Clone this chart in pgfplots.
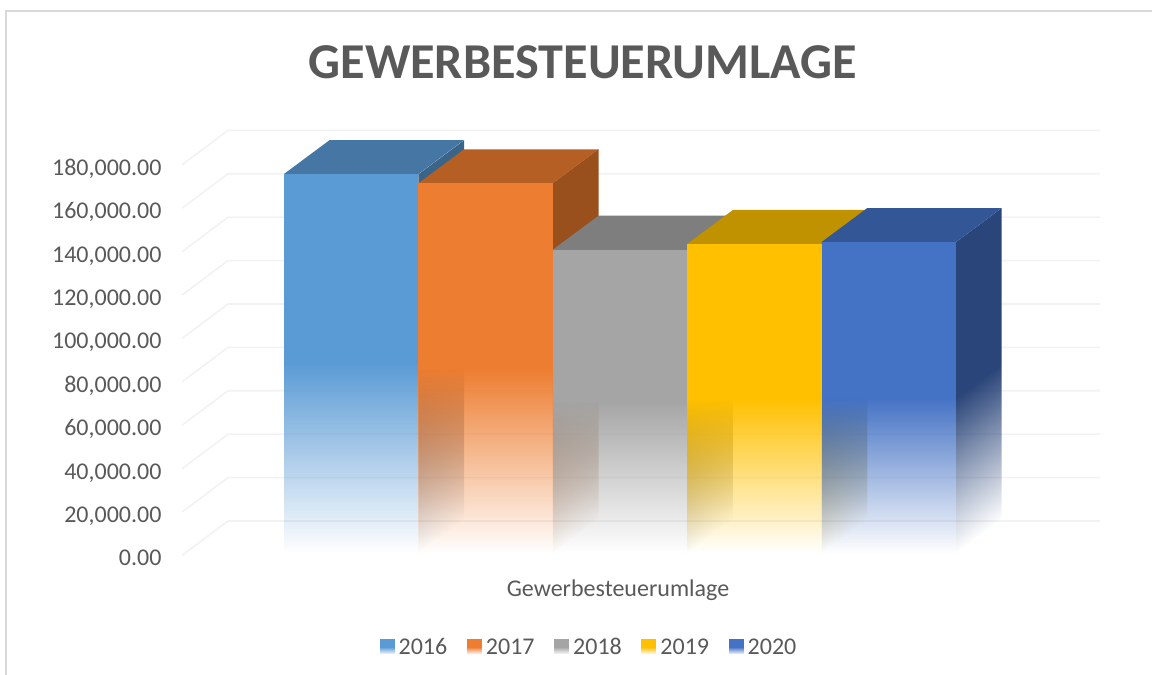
\documentclass[border=0pt]{standalone}
\usepackage{pgfplots}
\pgfplotsset{compat=1.18}
\usepackage{fontspec}
\setmainfont{Carlito}
\usetikzlibrary{fadings}
\pgfdeclareverticalshading{reflsh}{100bp}{color(0bp)=(black); color(25bp)=(black); color(50bp)=(white); color(100bp)=(white)}
\pgfdeclarefading{refl}{\pgfuseshading{reflsh}}
\definecolor{cA}{HTML}{5B9BD5}\definecolor{cB}{HTML}{ED7D31}\definecolor{cC}{HTML}{A5A5A5}\definecolor{cD}{HTML}{FFC000}\definecolor{cE}{HTML}{4472C4}
\definecolor{tA}{HTML}{4676A3}\definecolor{tB}{HTML}{B55F25}\definecolor{tC}{HTML}{7E7E7E}\definecolor{tD}{HTML}{C19200}\definecolor{tE}{HTML}{335696}
\definecolor{sA}{HTML}{3B6489}\definecolor{sB}{HTML}{99501C}\definecolor{sC}{HTML}{6B6B6B}\definecolor{sD}{HTML}{A67C00}\definecolor{sE}{HTML}{2A4579}
\definecolor{txt}{HTML}{595959}\definecolor{gridc}{HTML}{F2F2F2}\definecolor{framec}{HTML}{D9D9D9}
\begin{document}
\begin{tikzpicture}[x=1pt,y=1pt]
\path[use as bounding box] (0,0) rectangle (1152,675);
\draw[framec,line width=1.5pt] (6,0) -- (6,664) -- (1152,664);
\begin{axis}[
  at={(182pt,122pt)},anchor=south west,
  scale only axis,width=918pt,height=434pt,
  xmin=182,xmax=1100,ymin=0,ymax=200000,clip=false,
  axis line style={draw=none},
  major tick length=0pt,
  xtick={618},xticklabels={Gewerbesteuerumlage},
  xticklabel style={yshift=-23pt},
  ytick={0,20000,40000,60000,80000,100000,120000,140000,160000,180000},
  scaled y ticks=false,
  yticklabel style={/pgf/number format/.cd,fixed,fixed zerofill,precision=2,1000 sep={,},assume math mode=true,/tikz/.cd,xshift=-17pt,yshift=-5.5pt,text height=15pt,text depth=0pt},
  ticklabel style={font=\fontsize{24}{28}\selectfont,text=txt},
  legend style={draw=none,fill=none,at={(407pt,-91.5pt)},anchor=center,legend columns=-1,font=\fontsize{24}{28}\selectfont,text=txt,
    /tikz/every odd column/.append style={column sep=2pt},
    /tikz/every even column/.append style={column sep=17.6pt}},
  legend image code/.code={\fill[#1,draw=none,path fading=refl] (0pt,-7.5pt) rectangle (15pt,7.5pt);},
]
% grid
\addplot[gridc,line width=1.6pt,forget plot] coordinates {(182,-1150)(228,14750)(1100,14750)};
\addplot[gridc,line width=1.6pt,forget plot] coordinates {(182,18850)(228,34750)(1100,34750)};
\addplot[gridc,line width=1.6pt,forget plot] coordinates {(182,38850)(228,54750)(1100,54750)};
\addplot[gridc,line width=1.6pt,forget plot] coordinates {(182,58850)(228,74750)(1100,74750)};
\addplot[gridc,line width=1.6pt,forget plot] coordinates {(182,78850)(228,94750)(1100,94750)};
\addplot[gridc,line width=1.6pt,forget plot] coordinates {(182,98850)(228,114750)(1100,114750)};
\addplot[gridc,line width=1.6pt,forget plot] coordinates {(182,118850)(228,134750)(1100,134750)};
\addplot[gridc,line width=1.6pt,forget plot] coordinates {(182,138850)(228,154750)(1100,154750)};
\addplot[gridc,line width=1.6pt,forget plot] coordinates {(182,158850)(228,174750)(1100,174750)};
\addplot[gridc,line width=1.6pt,forget plot] coordinates {(182,178850)(228,194750)(1100,194750)};
% 2016
\addplot[fill=sA,draw=none,forget plot,path fading=refl,fading transform={yslant=0.0823,yscale=0.9177}] coordinates {(418.4,0)(464.1,15668)(464.1,190318)(418.4,174650)} --cycle;
\addplot[fill=tA,draw=none,forget plot] coordinates {(284,174250)(418.4,174250)(418.4,174650)(464.1,190318)(329.7,190318)(284,174650)} --cycle;
\addplot[ybar,bar width=134.4pt,bar shift=0pt,fill=cA,draw=none,path fading=refl] coordinates {(351.2,174650)};
\addlegendentry{2016}
% 2017
\addplot[fill=sB,draw=none,forget plot,path fading=refl,fading transform={yslant=0.0842,yscale=0.9158}] coordinates {(552.8,0)(598.5,15668)(598.5,186038)(552.8,170370)} --cycle;
\addplot[fill=tB,draw=none,forget plot] coordinates {(418.4,169970)(552.8,169970)(552.8,170370)(598.5,186038)(464.1,186038)(418.4,170370)} --cycle;
\addplot[ybar,bar width=134.4pt,bar shift=0pt,fill=cB,draw=none,path fading=refl] coordinates {(485.6,170370)};
\addlegendentry{2017}
% 2018
\addplot[fill=sC,draw=none,forget plot,path fading=refl,fading transform={yslant=0.1009,yscale=0.8991}] coordinates {(687.2,0)(732.9,15668)(732.9,155438)(687.2,139770)} --cycle;
\addplot[fill=tC,draw=none,forget plot] coordinates {(552.8,139370)(687.2,139370)(687.2,139770)(732.9,155438)(598.5,155438)(552.8,139770)} --cycle;
\addplot[ybar,bar width=134.4pt,bar shift=0pt,fill=cC,draw=none,path fading=refl] coordinates {(620,139770)};
\addlegendentry{2018}
% 2019
\addplot[fill=sD,draw=none,forget plot,path fading=refl,fading transform={yslant=0.0991,yscale=0.9009}] coordinates {(821.6,0)(867.3,15668)(867.3,158068)(821.6,142400)} --cycle;
\addplot[fill=tD,draw=none,forget plot] coordinates {(687.2,142000)(821.6,142000)(821.6,142400)(867.3,158068)(732.9,158068)(687.2,142400)} --cycle;
\addplot[ybar,bar width=134.4pt,bar shift=0pt,fill=cD,draw=none,path fading=refl] coordinates {(754.4,142400)};
\addlegendentry{2019}
% 2020
\addplot[fill=sE,draw=none,forget plot,path fading=refl,fading transform={yslant=0.0986,yscale=0.9014}] coordinates {(956,0)(1001.7,15668)(1001.7,158968)(956,143300)} --cycle;
\addplot[fill=tE,draw=none,forget plot] coordinates {(821.6,142900)(956,142900)(956,143300)(1001.7,158968)(867.3,158968)(821.6,143300)} --cycle;
\addplot[ybar,bar width=134.4pt,bar shift=0pt,fill=cE,draw=none,path fading=refl] coordinates {(888.8,143300)};
\addlegendentry{2020}
\end{axis}
\node[text=txt,font=\fontsize{50.2}{60}\selectfont\bfseries] at (582.5,613) {GEWERBESTEUERUMLAGE};
\end{tikzpicture}
\end{document}
